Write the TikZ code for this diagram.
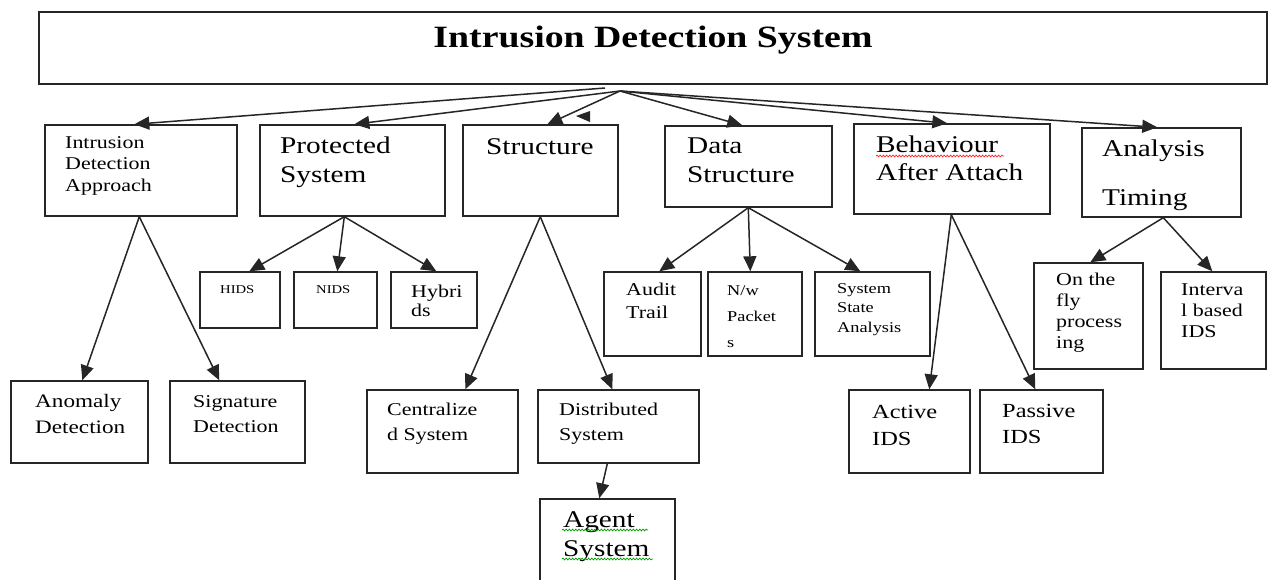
\documentclass[tikz,border=0pt]{standalone}
\usepackage{fontspec}
\usetikzlibrary{arrows.meta,calc,decorations.pathmorphing}
\newfontfamily\rf[FakeStretch=1.22]{Liberation Serif}
\tikzset{
  bx/.style={draw=black!85, line width=1.4pt, inner sep=0pt, fill=white},
  tx/.style={inner sep=0pt, text=black},
  conn/.style={draw=black!85, line width=1.5pt, -{Triangle[length=15pt,width=13pt]}},
  squig/.style={decorate, decoration={snake, amplitude=0.9pt, segment length=3.2pt}, line width=0.7pt}
}
\newcommand{\bx}[5]{\node[bx, minimum width={#4-#2}, minimum height={#5-#3}] (#1) at ({(#2+#4)/2},{(#3+#5)/2}) {};}
\newcommand{\tx}[6]{\node[tx, anchor=base west, font={\rf\fontsize{#4}{#5}\selectfont}] (#1) at (#2,#3) {\begin{tabular}[t]{@{}l@{}}#6\end{tabular}};}
\begin{document}
\begin{tikzpicture}[x=1pt,y=-1pt]
\useasboundingbox (0,0) rectangle (1272,579);
\clip (0,0) rectangle (1272,579);
\fill[white] (0,0) rectangle (1272,579);
% boxes
\bx{title}{39}{12}{1267}{84}
\bx{ida}{45}{125}{237}{216}
\bx{prot}{260}{125}{445}{216}
\bx{struc}{463}{125}{618}{216}
\bx{dstr}{665}{126}{832}{207}
\bx{beh}{854}{124}{1050}{214}
\bx{ana}{1082}{128}{1241}{217}
\bx{hids}{200}{272}{280}{328}
\bx{nids}{294}{272}{377}{328}
\bx{hyb}{391}{272}{477}{328}
\bx{audit}{604}{272}{701}{356}
\bx{nw}{708}{272}{802}{356}
\bx{sys}{815}{272}{930}{356}
\bx{fly}{1034}{263}{1143}{369}
\bx{intv}{1161}{272}{1266}{369}
\bx{anom}{11}{381}{148}{463}
\bx{sig}{170}{381}{305}{463}
\bx{cent}{367}{390}{518}{473}
\bx{dist}{538}{390}{699}{463}
\bx{agent}{540}{499}{675}{590}
\bx{active}{849}{390}{970}{473}
\bx{passive}{980}{390}{1103}{473}
% texts
\node[tx, anchor=base, font={\rf\bfseries\fontsize{31}{36}\selectfont}] (title-t) at (653,47) {Intrusion Detection System};
\tx{ida-t}{65}{148}{18}{21.5}{Intrusion\\Detection\\Approach}
\tx{prot-t}{280}{153}{24}{29}{Protected\\System}
\tx{struc-t}{486}{154}{24}{29}{Structure}
\tx{dstr-t}{687}{153}{24}{29}{Data\\Structure}
\tx{beh-t}{876}{152}{24}{28}{Behaviour\\After Attach}
\tx{ana-t}{1102}{156}{24}{49}{Analysis\\Timing}
\tx{hids-t}{220}{293}{12}{16}{HIDS}
\tx{nids-t}{316}{293}{12}{16}{NIDS}
\tx{hyb-t}{411}{297}{18}{19.5}{Hybri\\ds}
\tx{audit-t}{626}{295}{18}{23}{Audit\\Trail}
\tx{nw-t}{727}{295}{15}{26}{N/w\\Packet\\s}
\tx{sys-t}{837}{293}{15}{19.5}{System\\State\\Analysis}
\tx{fly-t}{1056}{285}{18}{21.3}{On the\\fly\\process\\ing}
\tx{intv-t}{1181}{295}{18}{21}{Interva\\l based\\IDS}
\tx{anom-t}{35}{407}{19}{26}{Anomaly\\Detection}
\tx{sig-t}{193}{407}{18}{25}{Signature\\Detection}
\tx{cent-t}{387}{415}{18}{25}{Centralize\\d System}
\tx{dist-t}{559}{415}{18}{25}{Distributed\\System}
\tx{agent-t}{563}{527}{24}{29}{Agent\\System}
\tx{active-t}{872}{418}{20}{27}{Active\\IDS}
\tx{passive-t}{1002}{417}{20}{26}{Passive\\IDS}
% spell-check squiggles
\draw[squig, red!85] (876,156) -- (1004,156);
\draw[squig, green!60!black] (562,530) -- (648,530);
\draw[squig, green!60!black] (562,559) -- (653,559);
% hub coordinates
\coordinate (hub) at (620,91);
\coordinate (hub2) at (605,88);
% top-level connectors
\draw[conn] (hub2) -- ($(ida.north west)+(90,0)$);
\draw[conn] (hub) -- ($(prot.north west)+(95,0)$);
\draw[conn] (hub) -- ($(struc.north west)+(85,0)$);
\draw[conn] (hub) -- ($(dstr.north west)+(78,0)$);
\draw[conn] (hub) -- ($(beh.north west)+(94,0)$);
\draw[conn] (hub) -- ($(ana.north west)+(76,0)$);
\fill[black!85] (576,116) -- (590,111) -- (590,122) -- cycle;
% second-level connectors
\coordinate (ida-o) at ($(ida.south west)+(95,0)$);
\draw[conn] (ida-o) -- ($(anom.north west)+(72,0)$);
\draw[conn] (ida-o) -- ($(sig.north west)+(50,0)$);
\coordinate (prot-o) at ($(prot.south west)+(85,0)$);
\draw[conn] (prot-o) -- ($(hids.north west)+(50,0)$);
\draw[conn] (prot-o) -- ($(nids.north west)+(44,0)$);
\draw[conn] (prot-o) -- ($(hyb.north west)+(46,0)$);
\coordinate (struc-o) at ($(struc.south west)+(78,0)$);
\draw[conn] (struc-o) -- ($(cent.north west)+(99,0)$);
\draw[conn] (struc-o) -- ($(dist.north west)+(75,0)$);
\coordinate (dstr-o) at ($(dstr.south west)+(84,0)$);
\draw[conn] (dstr-o) -- ($(audit.north west)+(56,0)$);
\draw[conn] (dstr-o) -- ($(nw.north west)+(43,0)$);
\draw[conn] (dstr-o) -- ($(sys.north west)+(46,0)$);
\coordinate (beh-o) at ($(beh.south west)+(98,0)$);
\draw[conn] (beh-o) -- ($(active.north west)+(81,0)$);
\draw[conn] (beh-o) -- ($(passive.north west)+(56,0)$);
\coordinate (ana-o) at ($(ana.south west)+(82,0)$);
\draw[conn] (ana-o) -- ($(fly.north west)+(57,0)$);
\draw[conn] (ana-o) -- ($(intv.north west)+(52,0)$);
\draw[conn] ($(dist.south west)+(70,0)$) -- ($(agent.north west)+(60,0)$);
\end{tikzpicture}
\end{document}
